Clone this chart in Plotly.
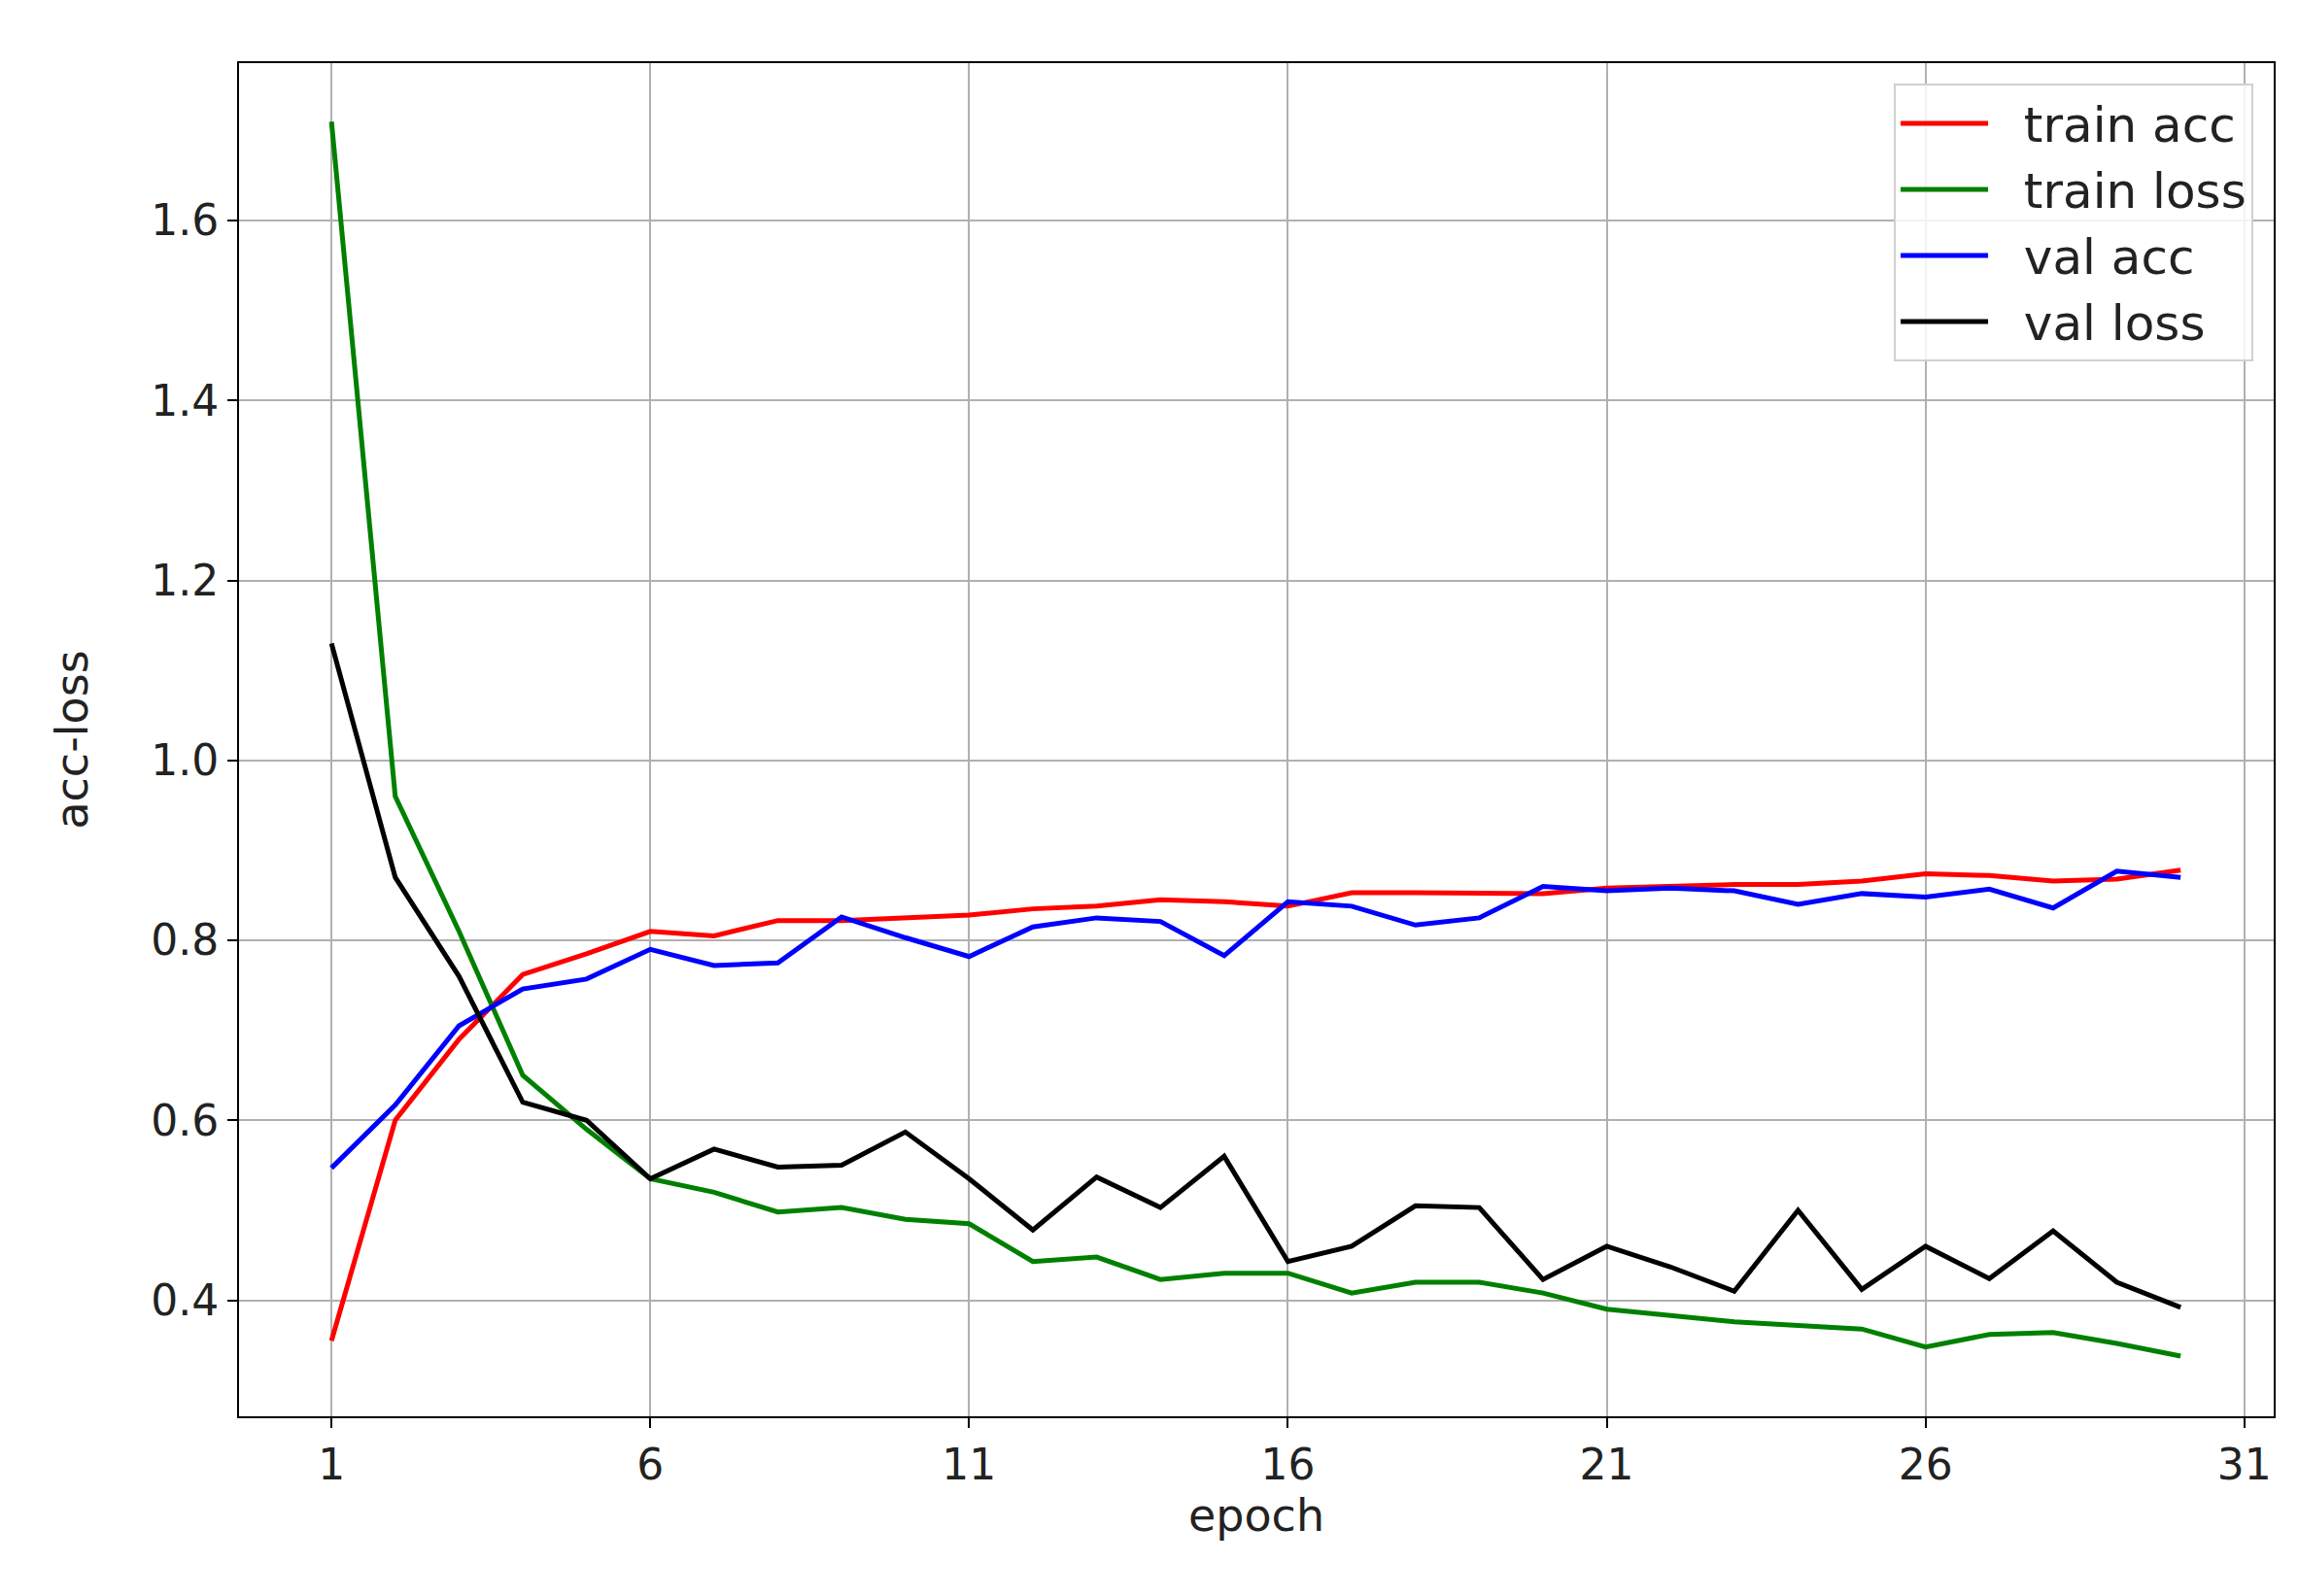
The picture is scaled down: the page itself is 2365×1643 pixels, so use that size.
import plotly.graph_objects as go

epochs = list(range(1, 31))
train_acc = [0.355, 0.60, 0.69, 0.762, 0.785, 0.81, 0.805, 0.822, 0.822, 0.825, 0.828, 0.835, 0.838, 0.845, 0.843,
             0.838, 0.853, 0.853, 0.852, 0.852, 0.858, 0.86, 0.862, 0.862, 0.866, 0.874, 0.872, 0.866, 0.868, 0.878]
train_loss = [1.71, 0.96, 0.81, 0.65, 0.59, 0.535, 0.52, 0.498, 0.503, 0.49, 0.485, 0.443, 0.448, 0.423, 0.43,
              0.43, 0.408, 0.42, 0.42, 0.408, 0.39, 0.383, 0.376, 0.372, 0.368, 0.348, 0.362, 0.364, 0.352, 0.338]
val_acc = [0.547, 0.617, 0.705, 0.746, 0.757, 0.79, 0.772, 0.775, 0.826, 0.803, 0.782, 0.815, 0.825, 0.821, 0.783,
           0.843, 0.838, 0.817, 0.825, 0.86, 0.855, 0.858, 0.855, 0.84, 0.852, 0.848, 0.857, 0.836, 0.877, 0.87]
val_loss = [1.13, 0.87, 0.76, 0.62, 0.60, 0.535, 0.568, 0.548, 0.55, 0.587, 0.535, 0.478, 0.537, 0.503, 0.56,
            0.443, 0.46, 0.505, 0.503, 0.423, 0.46, 0.437, 0.41, 0.50, 0.412, 0.46, 0.424, 0.477, 0.42, 0.392]
x_ticks = [1, 6, 11, 16, 21, 26, 31]
y_ticks = [0.4, 0.6, 0.8, 1.0, 1.2, 1.4, 1.6]

fig = go.Figure()
for name, ys, col in [("train acc", train_acc, "#ff0000"), ("train loss", train_loss, "#008000"),
                      ("val acc", val_acc, "#0000ff"), ("val loss", val_loss, "#000000")]:
    fig.add_trace(go.Scatter(x=epochs, y=ys, mode="lines", name="  " + name, line=dict(color=col, width=5)))

axis_common = dict(showgrid=True, gridcolor="#b0b0b0", gridwidth=2, showline=True, linecolor="black",
                   linewidth=2, mirror=True, ticks="outside", ticklen=10, tickwidth=2, tickcolor="black",
                   zeroline=False, tickfont=dict(size=44, color="#222"))
fig.update_layout(
    width=2365, height=1643, paper_bgcolor="white", plot_bgcolor="white",
    margin=dict(l=238, r=33, t=57, b=193),
    font=dict(family="DejaVu Sans", color="#222"),
    xaxis=dict(range=[-0.45, 31.46], tickvals=x_ticks, title=dict(text="epoch", font=dict(size=46), standoff=10), **axis_common),
    yaxis=dict(range=[0.271, 1.775], tickvals=y_ticks, tickformat=".1f", title=dict(text="acc-loss", font=dict(size=46), standoff=50), **axis_common),
    legend=dict(x=0.99, y=0.985, xanchor="right", yanchor="top", bgcolor="rgba(255,255,255,0.85)",
                bordercolor="#d0d0d0", borderwidth=2, font=dict(size=50), itemwidth=90, tracegroupgap=12),
)
fig.write_html("out.html")
